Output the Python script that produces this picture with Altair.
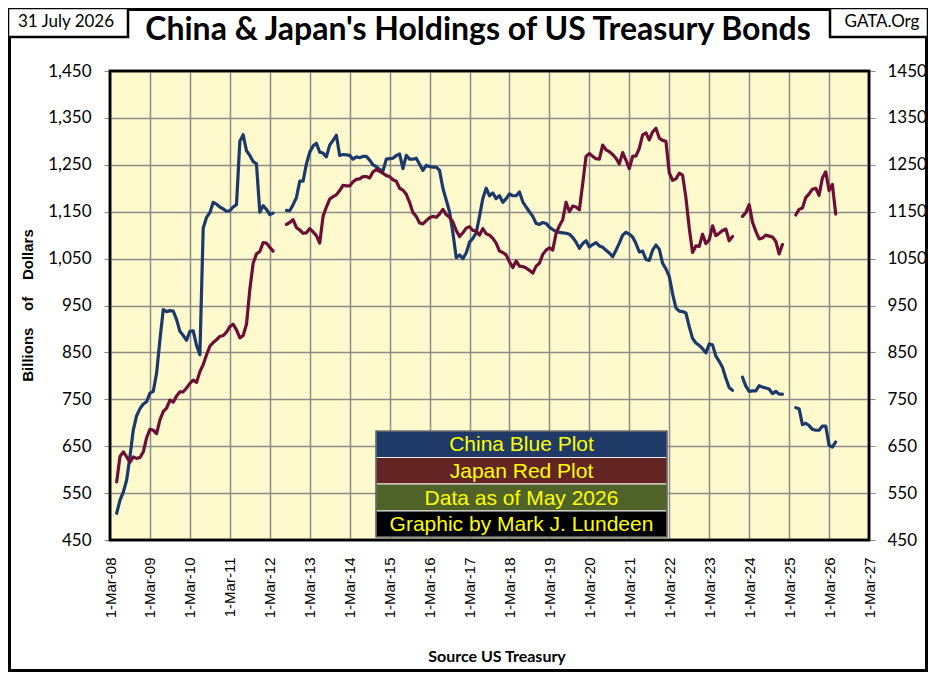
import altair as alt
import pandas as pd

# ---------------- data (billions of US$) ----------------
# month index counted from 1-Mar-08 (0); first reading is May 2008 (index 2)
first_month_index = 2

china = [507, 535, 552, 578, 628, 685, 715, 730, 740, 745,
         763, 767, 806, 877, 941, 937, 939, 938, 920, 895, 886, 876,
         895, 896, 865, 845, 1115, 1138, 1148, 1170, 1166, 1160, 1156, 1151,
         1152, 1160, 1165, 1300, 1314, 1280, 1270, 1257, 1252, 1149, 1163, 1155,
         1144, 1147, None, None, None, 1153, 1152, 1165, 1180, 1215, 1215, 1252,
         1277, 1290, 1296, 1277, 1275, 1267, 1292, 1302, 1313, 1270, 1272, 1271,
         1270, 1262, 1267, 1265, 1268, 1268, 1260, 1250, 1246, 1240, 1237, 1262,
         1263, 1264, 1270, 1273, 1242, 1270, 1262, 1262, 1264, 1251, 1238, 1249,
         1246, 1245, 1245, 1238, 1200, 1175, 1150, 1105, 1052, 1058, 1050, 1062,
         1085, 1093, 1105, 1140, 1178, 1200, 1184, 1190, 1178, 1184, 1170, 1178,
         1188, 1184, 1184, 1192, 1171, 1160, 1150, 1140, 1125, 1123, 1127, 1125,
         1117, 1112, 1108, 1106, 1105, 1104, 1102, 1095, 1085, 1072, 1082, 1088,
         1075, 1080, 1084, 1077, 1074, 1068, 1062, 1054, 1068, 1083, 1100, 1106,
         1102, 1096, 1082, 1064, 1066, 1048, 1046, 1068, 1079, 1070, 1040, 1028,
         1012, 975, 945, 938, 937, 934, 905, 880, 870, 865, 858, 849,
         868, 866, 842, 831, 818, 795, 775, 769, None, None, 797, 778,
         767, 768, 768, 779, 776, 774, 772, 762, 767, 761, 761, None,
         None, None, 732, 730, 696, 699, 694, 686, 684, 684, 693, 693,
         652, 648, 659]

japan = [574, 628, 638, 627, 616, 627, 624, 626, 638, 668,
         686, 684, 677, 706, 724, 731, 748, 744, 757, 766, 766, 774,
         784, 791, 786, 809, 824, 845, 863, 871, 877, 884, 886, 893,
         905, 910, 898, 881, 886, 910, 984, 1040, 1060, 1065, 1084, 1083,
         1074, 1066, None, None, None, 1123, 1127, 1133, 1116, 1111, 1104, 1105,
         1114, 1107, 1099, 1083, 1140, 1160, 1177, 1182, 1186, 1195, 1206, 1205,
         1205, 1214, 1219, 1220, 1225, 1225, 1222, 1235, 1240, 1236, 1232, 1227,
         1225, 1218, 1215, 1200, 1196, 1187, 1170, 1148, 1140, 1126, 1124, 1131,
         1137, 1140, 1138, 1145, 1155, 1144, 1138, 1128, 1110, 1097, 1105, 1115,
         1118, 1110, 1109, 1100, 1114, 1103, 1100, 1093, 1083, 1066, 1063, 1058,
         1043, 1031, 1045, 1034, 1033, 1030, 1025, 1019, 1034, 1040, 1059, 1068,
         1073, 1068, 1104, 1120, 1133, 1170, 1150, 1162, 1160, 1154, 1210, 1268,
         1274, 1268, 1263, 1262, 1292, 1282, 1278, 1272, 1264, 1252, 1276, 1260,
         1242, 1268, 1269, 1285, 1314, 1318, 1303, 1320, 1328, 1307, 1302, 1300,
         1233, 1217, 1220, 1232, 1228, 1180, 1115, 1063, 1077, 1076, 1102, 1082,
         1090, 1120, 1099, 1104, 1110, 1113, 1088, 1097, None, None, 1140, 1148,
         1165, 1128, 1108, 1092, 1094, 1100, 1098, 1096, 1087, 1060, 1080, None,
         None, None, 1143, 1155, 1158, 1180, 1188, 1198, 1200, 1185, 1222, 1235,
         1195, 1208, 1145]

tick_labels = ["1-Mar-08", "1-Mar-09", "1-Mar-10", "1-Mar-11", "1-Mar-12",
               "1-Mar-13", "1-Mar-14", "1-Mar-15", "1-Mar-16", "1-Mar-17",
               "1-Mar-18", "1-Mar-19", "1-Mar-20", "1-Mar-21", "1-Mar-22",
               "1-Mar-23", "1-Mar-24", "1-Mar-25", "1-Mar-26", "1-Mar-27"]
y_ticks = [450, 550, 650, 750, 850, 950, 1050, 1150, 1250, 1350, 1450]

legend_rows = ["China Blue Plot", "Japan Red Plot", "Data as of May 2026",
               "Graphic by Mark J. Lundeen"]
legend_fills = ["#1F3A66", "#632523", "#4F6228", "#000000"]

title_text = "China & Japan's Holdings of US Treasury Bonds"
date_text = "31 July 2026"
site_text = "GATA.Org"
NB = "\u00a0"
y_title = "Billions" + NB * 4 + "of" + NB * 4 + "Dollars"
x_title = "Source US Treasury"

BLUE = "#1B3A6B"
MAROON = "#6B0F36"
GRID = "#8C8C8C"


def to_frame(vals):
    rows, seg, in_gap = [], 0, False
    for i, v in enumerate(vals):
        if v is None:
            if not in_gap:
                seg += 1
            in_gap = True
            continue
        in_gap = False
        rows.append({"m": first_month_index + i, "v": v, "seg": seg})
    return pd.DataFrame(rows)


df_china = to_frame(china)
df_japan = to_frame(japan)

W, H = 759, 469
PL, PT, PR, PB = 102, 63, 59, 132

label_expr = "[" + ",".join("'" + t + "'" for t in tick_labels) + "][round(datum.value/12)]"

x_enc = alt.X(
    "m:Q",
    scale=alt.Scale(domain=[0, 12 * (len(tick_labels) - 1)], nice=False, zero=False),
    axis=alt.Axis(values=[12 * i for i in range(len(tick_labels))], labelExpr=label_expr,
                  labelAngle=270, labelAlign="right", labelBaseline="middle",
                  labelFont="Liberation Sans", labelFontSize=15, labelColor="black",
                  ticks=False, labelPadding=17, grid=True, gridColor=GRID,
                  gridWidth=1.5, domain=False, title=None, labelOverlap=False),
)


def y_enc(orient, fmt, grid, pad):
    return alt.Y(
        "v:Q",
        scale=alt.Scale(domain=[450, 1450], nice=False, zero=False),
        axis=alt.Axis(values=y_ticks, format=fmt, orient=orient, labelFont="Lato",
                      labelFontSize=17, labelColor="black", tickSize=6,
                      tickColor="#888888", tickWidth=1, labelPadding=pad,
                      grid=grid, gridColor=GRID, gridWidth=1.5, domain=False,
                      title=None, labelOverlap=False),
    )


china_layer = alt.Chart(df_china).mark_line(
    color=BLUE, strokeWidth=3.2, strokeJoin="round", strokeCap="round"
).encode(x=x_enc, y=y_enc("left", ",d", True, 13), detail="seg:N")

japan_layer = alt.Chart(df_japan).mark_line(
    color=MAROON, strokeWidth=3.2, strokeJoin="round", strokeCap="round"
).encode(x=x_enc, y=y_enc("right", "d", False, 12), detail="seg:N")

one = alt.InlineData(values=[{"a": 1}])


def rect(x1, x2, y1, y2, **kw):
    return alt.Chart(one).mark_rect(**kw).encode(
        x=alt.value(x1), x2=alt.value(x2), y=alt.value(y1), y2=alt.value(y2))


def text(t, x, y, **kw):
    return alt.Chart(one).mark_text(text=t, **kw).encode(x=alt.value(x), y=alt.value(y))


decor = []
# plot border
decor.append(rect(0, W, 0, H, fill="transparent", stroke="black", strokeWidth=2.5))
# legend box
lx1, lx2 = 266, 557
row_y = [360, 386.5, 413, 440, 466]
for i, (lab, col) in enumerate(zip(legend_rows, legend_fills)):
    decor.append(rect(lx1, lx2, row_y[i], row_y[i + 1], fill=col, stroke="#f0f0f0", strokeWidth=1.2))
    decor.append(text(lab, (lx1 + lx2) / 2, (row_y[i] + row_y[i + 1]) / 2 + 1,
                      font="Liberation Sans", fontSize=21, color="#FFFF00",
                      align="center", baseline="middle"))
decor.append(rect(lx1, lx2, row_y[0], row_y[-1], fill="transparent", stroke="#333333", strokeWidth=1.2))

# outer frame
decor.append(rect(-PL, W + PR, -PT, H + PB, fill="transparent", stroke="black", strokeWidth=6))
# header boxes
decor.append(rect(-PL, 18, -PT, -34, fill="white", stroke="black", strokeWidth=2.5))
decor.append(text(date_text, -44, -49, font="Lato", fontSize=17, color="black",
                  align="center", baseline="middle"))
decor.append(rect(720, W + PR, -PT, -34, fill="white", stroke="black", strokeWidth=2.5))
decor.append(text(site_text, 772, -49, font="Lato", fontSize=17, color="black",
                  align="center", baseline="middle"))
decor.append(text(title_text, 368, -41, font="Lato", fontSize=32, fontWeight="bold",
                  color="black", align="center", baseline="middle"))
# axis titles
decor.append(text(y_title, -82, H / 2, font="Liberation Sans", fontSize=15, fontWeight="bold",
                  color="black", align="center", baseline="middle", angle=270))
decor.append(text(x_title, 387, 586, font="Lato", fontSize=16, fontWeight="bold",
                  color="black", align="center", baseline="middle"))

chart = alt.layer(china_layer, japan_layer, *decor).resolve_scale(
    y="independent"
).properties(
    width=W, height=H,
    autosize=alt.AutoSizeParams(type="none"),
    padding={"left": PL, "top": PT, "right": PR, "bottom": PB},
    background="white",
).configure_view(fill="#FFFACD", stroke="black", strokeWidth=2.5)

chart.save("out.html", embed_options={"renderer": "svg", "actions": False})
